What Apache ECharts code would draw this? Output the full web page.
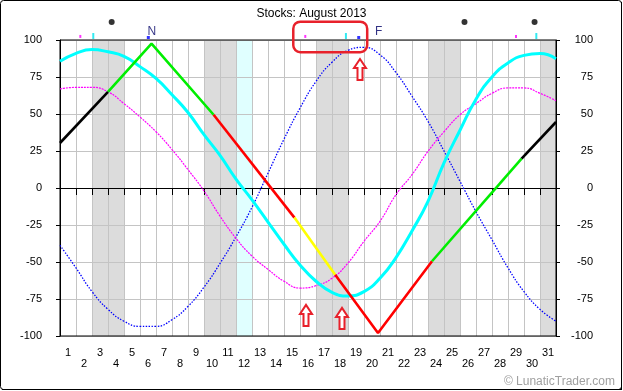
<!DOCTYPE html>
<html><head><meta charset="utf-8">
<script src="https://cdn.jsdelivr.net/npm/echarts/dist/echarts.min.js"></script>
<style>html,body{margin:0;padding:0;background:#fff}#c{width:623px;height:391px}</style>
</head><body><div id="c"></div>
<script>
const chartTitle = 'Stocks: August 2013';
const copyrightText = '\u00a9 LunaticTrader.com';
const days = ['1','2','3','4','5','6','7','8','9','10','11','12','13','14','15','16','17','18','19','20','21','22','23','24','25','26','27','28','29','30','31'];
const yTickMin = -100, yTickMax = 100, yTickStep = 25;
// day-boundary sample times (0 = start of Aug 1, 31 = end of Aug 31)
const sampleT = [0,1,2,3,4,5,6,7,8,9,10,11,12,13,14,15,16,17,18,19,20,21,22,23,24,25,26,27,28,29,30,31];
const blueVals = [-38.7,-54,-70,-82,-90,-93.5,-93.5,-89,-80,-67,-51,-33,-13,10,33,54,72,85,93,95,90,78,62,45,25,4.5,-16,-35,-54,-70,-82,-90];
const pinkVals = [67,68,68,65,57,48,38,26,12.4,-2,-19,-34,-46,-55,-63,-67.6,-66,-61,-50.7,-36,-22.5,-4.5,9,24.8,38,49.5,57,64,67.6,67.6,64,59];
const cyanVals = [85.6,91,93.5,92,89,82,74,63,51,36,22,6,-8,-23,-38,-52,-63,-70.5,-73,-70,-61,-47,-29,-9,17,39,60,75,84.5,89.6,90.8,87.4];
// zigzag vertices and colour-change points
const zigT = [0,3,5.72,9.6,14.65,17.2,19.875,23.25,28.85,31];
const zigV = [30.4,65,97.5,49.5,-20,-58.6,-98,-49.5,19.8,44.6];
const zigBreaks = [0,3,9.6,14.65,17.2,23.25,28.85,31];
const zigColors = ['#000000','#00ee00','#ff0000','#ffff00','#ff0000','#00ee00','#000000'];
const grayBands = [[2,4],[9,11],[16,18],[23,25],[30,31]];
const cyanBands = [[11,12]];
const pinkMarkT = [1.27,15.33,28.5];
const cyanMarkT = [2.08,17.87,29.77];
const blueMarkT = [5.52,18.67];
const dotMarkT = [3.23,25.28,29.66];
const phaseNames = ['N','F'];
const phaseT = [5.74,19.91];
// hand-drawn annotations (in chart data space)
const annBox = [[14.58,112.4],[19.2,91.7]];
const annArrows = [[18.75,87.2],[15.375,-79],[17.625,-81]];

const FONT = "'Liberation Sans', Arial, sans-serif";
const gridSplitColors = [];
for (let v = yTickMin; v <= yTickMax; v += yTickStep) gridSplitColors.push(v === 0 ? '#a0a0a0' : '#c4c4c4');

const pts = vals => sampleT.map((t,i)=>[t, vals[i]]);
const series = [];
series.push({
  type:'line', xAxisIndex:1, yAxisIndex:0, data:[], z:1, silent:true,
  markArea:{silent:true, data:
    grayBands.map(b=>[{xAxis:b[0], itemStyle:{color:'#dcdcdc'}},{xAxis:b[1]}])
    .concat(cyanBands.map(b=>[{xAxis:b[0], itemStyle:{color:'#e0ffff'}},{xAxis:b[1]}]))
  }
});
series.push({type:'line', xAxisIndex:1, yAxisIndex:0, data:pts(blueVals), smooth:0.5, symbol:'none',
  lineStyle:{color:'#0000ff', width:1.3, type:[1.5,1.5]}, z:2});
series.push({type:'line', xAxisIndex:1, yAxisIndex:0, data:pts(pinkVals), smooth:0.5, symbol:'none',
  lineStyle:{color:'#ff00ff', width:1.2, type:[2,1]}, z:2});
series.push({type:'line', xAxisIndex:1, yAxisIndex:0, data:pts(cyanVals), smooth:0.5, symbol:'none',
  lineStyle:{color:'#00ffff', width:3}, z:2});
for (let s = 0; s < zigColors.length; s++) {
  const a = zigBreaks[s], b = zigBreaks[s+1];
  const d = [];
  zigT.forEach((t,i)=>{ if (t >= a - 1e-9 && t <= b + 1e-9) d.push([t, zigV[i]]); });
  series.push({type:'line', xAxisIndex:1, yAxisIndex:0, data:d, symbol:'none',
    lineStyle:{color:zigColors[s], width:2.6}, z:3});
}
const markerSeries = (ts, y, color, size, shape) => ({
  type:'scatter', xAxisIndex:1, yAxisIndex:0, clip:false, silent:true, z:4,
  symbol:shape, symbolSize:size, itemStyle:{color:color},
  data: ts.map(t=>[t, y])
});
series.push(markerSeries(pinkMarkT, 102.4, '#ff00ff', [2,3], 'rect'));
series.push(markerSeries(cyanMarkT, 102.7, '#00e5ee', [2,6], 'rect'));
series.push(markerSeries(blueMarkT, 101.7, '#0000ff', [3,3], 'rect'));
series.push(markerSeries(dotMarkT, 112.2, '#000000', 6, 'circle'));
series.push({type:'scatter', xAxisIndex:1, yAxisIndex:0, clip:false, silent:true, z:4,
  symbolSize:0, data: phaseT.map((t,i)=>({value:[t,105.7], name:phaseNames[i]})),
  label:{show:true, position:'inside', formatter: p=>p.name, color:'#000066', fontFamily:FONT, fontSize:12}});

const yAxisBase = {
  type:'value', min:yTickMin, max:yTickMax, interval:yTickStep, z:1.5,
  axisLine:{show:true, lineStyle:{color:'#000'}},
  axisTick:{show:true, length:4, lineStyle:{color:'#000'}},
};
const option = {
  animation:false,
  title:{text:chartTitle, left:'center', top:3, textStyle:{fontFamily:FONT, fontSize:12, fontWeight:'normal', color:'#000'}},
  grid:{left:60, top:40, width:496, height:296, show:true, borderColor:'#000', borderWidth:1, backgroundColor:'transparent', z:1.6},
  xAxis:[{
    type:'category', data:days, boundaryGap:true, z:1.5,
    axisLine:{lineStyle:{color:'#000'}},
    axisTick:{show:true, length:7, interval:0, lineStyle:{color:'#000'}},
    splitLine:{show:true, interval:0, lineStyle:{color:'#c4c4c4'}},
    axisLabel:{interval:0, margin:11, color:'#000', fontFamily:FONT, fontSize:11, lineHeight:11, verticalAlign:'top',
      formatter:(v,i)=> i%2===0 ? v : '\n'+v}
  },{
    type:'value', min:0, max:31, show:false
  }],
  yAxis:[Object.assign({}, yAxisBase, {position:'left',
      splitLine:{show:true, lineStyle:{color:gridSplitColors}},
      axisLabel:{margin:18, color:'#000', fontFamily:FONT, fontSize:11}}),
    Object.assign({}, yAxisBase, {position:'right', splitLine:{show:false},
      axisLabel:{margin:37, align:'right', color:'#000', fontFamily:FONT, fontSize:11}})],
  series: series
};
const chart = echarts.init(document.getElementById('c'), null, {renderer:'canvas'});
chart.setOption(option);

const px = p => chart.convertToPixel({xAxisIndex:1, yAxisIndex:0}, p);
const b0 = px(annBox[0]), b1 = px(annBox[1]);
const graphics = [
  {type:'rect', shape:{x:0.5, y:0.5, width:621, height:389, r:3}, style:{fill:'none', stroke:'#000', lineWidth:1}, silent:true},
  {type:'line', shape:{x1:621.5, y1:2, x2:621.5, y2:390}, style:{stroke:'#000', lineWidth:1}, silent:true},
  {type:'line', shape:{x1:2, y1:389.5, x2:621, y2:389.5}, style:{stroke:'#000', lineWidth:1}, silent:true},
  {type:'text', x:615, y:382, style:{text:copyrightText, fill:'#a0a0a0', font:'12px '+FONT, textAlign:'right', textVerticalAlign:'middle'}, silent:true},
  {type:'rect', z:10, shape:{x:b0[0], y:b0[1], width:b1[0]-b0[0], height:b1[1]-b0[1], r:7}, style:{fill:'none', stroke:'#e8212b', lineWidth:2.5}, silent:true}
];
annArrows.forEach(a=>{
  const p = px(a);
  const x = p[0], y = p[1];
  graphics.push({type:'polygon', z:10, shape:{points:[[x,y],[x+6,y+9],[x+2.5,y+9],[x+2.5,y+21],[x-2.5,y+21],[x-2.5,y+9],[x-6,y+9]]},
    style:{fill:'#fff', stroke:'#e8212b', lineWidth:2}, silent:true});
});
chart.setOption({graphic:graphics});
</script></body></html>
